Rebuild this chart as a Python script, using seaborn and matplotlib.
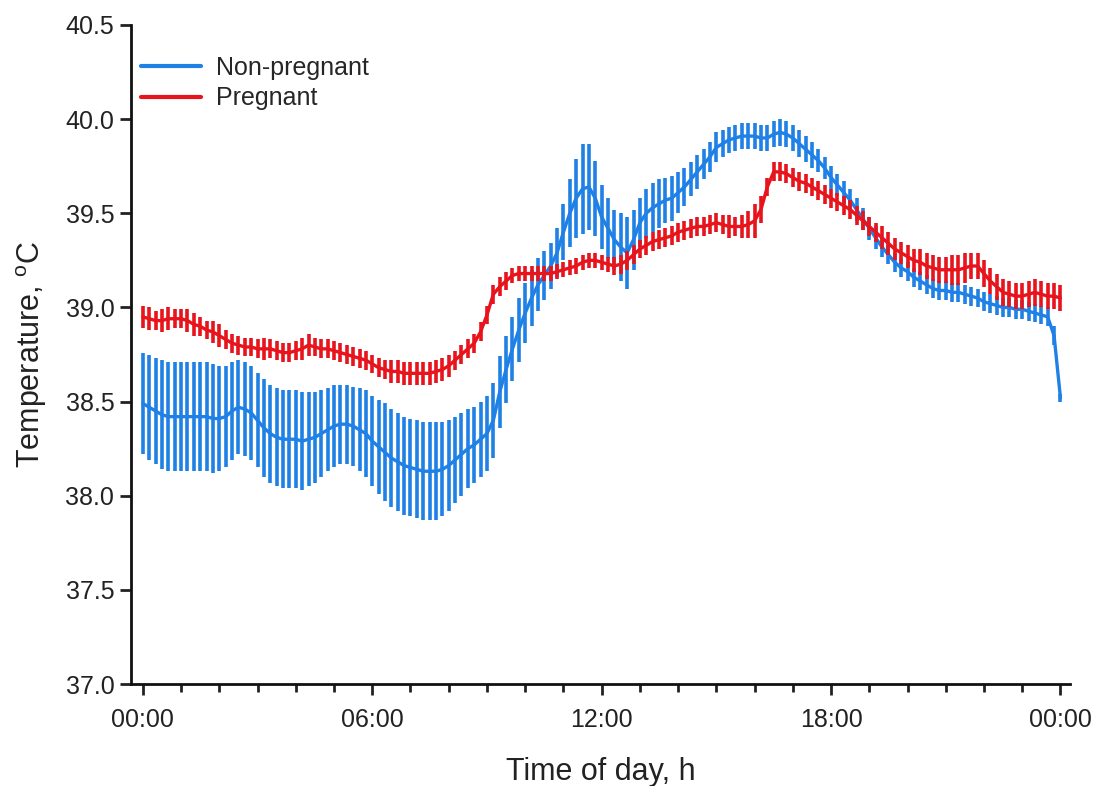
import numpy as np
import pandas as pd
import matplotlib
matplotlib.use("Agg")
import matplotlib.pyplot as plt
import seaborn as sns
from matplotlib.ticker import FixedLocator, MultipleLocator

# ---------------- data (10-min sampling, 00:00 .. 24:00) ----------------
minutes = np.arange(0, 1441, 10)

nonpreg_mean = [
    38.49, 38.47, 38.45, 38.43, 38.42, 38.42,   # 00
    38.42, 38.42, 38.42, 38.42, 38.42, 38.41,   # 01
    38.41, 38.42, 38.45, 38.47, 38.46, 38.44,   # 02
    38.40, 38.36, 38.33, 38.31, 38.30, 38.30,   # 03
    38.30, 38.29, 38.30, 38.31, 38.33, 38.35,   # 04
    38.37, 38.38, 38.38, 38.37, 38.35, 38.33,   # 05
    38.29, 38.26, 38.23, 38.20, 38.18, 38.16,   # 06
    38.15, 38.14, 38.13, 38.13, 38.13, 38.14,   # 07
    38.16, 38.19, 38.22, 38.25, 38.27, 38.30,   # 08
    38.33, 38.40, 38.55, 38.67, 38.78, 38.88,   # 09
    38.97, 39.05, 39.12, 39.17, 39.22, 39.29,   # 10
    39.40, 39.50, 39.58, 39.63, 39.64, 39.58,   # 11
    39.48, 39.42, 39.36, 39.32, 39.29, 39.36,   # 12
    39.45, 39.50, 39.53, 39.55, 39.57, 39.58,   # 13
    39.61, 39.64, 39.68, 39.72, 39.76, 39.80,   # 14
    39.85, 39.87, 39.89, 39.90, 39.91, 39.91,   # 15
    39.91, 39.90, 39.90, 39.92, 39.93, 39.92,   # 16
    39.90, 39.87, 39.84, 39.81, 39.78, 39.74,   # 17
    39.69, 39.65, 39.61, 39.57, 39.52, 39.47,   # 18
    39.42, 39.37, 39.32, 39.28, 39.24, 39.21,   # 19
    39.19, 39.16, 39.14, 39.12, 39.10, 39.09,   # 20
    39.09, 39.08, 39.08, 39.07, 39.06, 39.05,   # 21
    39.03, 39.02, 39.01, 39.00, 39.00, 38.99,   # 22
    38.99, 38.98, 38.97, 38.96, 38.95, 38.85,   # 23
    38.52,                                      # 24
]
nonpreg_err = [
    .27, .28, .28, .29, .29, .29,
    .29, .29, .29, .29, .29, .29,
    .28, .27, .26, .25, .25, .25,
    .25, .26, .26, .26, .26, .26,
    .26, .26, .25, .24, .23, .22,
    .22, .21, .21, .21, .22, .23,
    .24, .25, .26, .26, .26, .26,
    .26, .26, .26, .26, .26, .25,
    .24, .23, .22, .21, .20, .20,
    .20, .20, .19, .18, .17, .17,
    .16, .15, .14, .13, .12, .13,
    .15, .18, .21, .24, .23, .20,
    .17, .16, .16, .18, .19, .16,
    .13, .13, .13, .13, .12, .12,
    .11, .10, .09, .09, .08, .08,
    .08, .07, .07, .07, .07, .07,
    .07, .07, .07, .07, .07, .07,
    .07, .07, .07, .07, .06, .06,
    .06, .06, .06, .06, .06, .06,
    .06, .06, .05, .05, .05, .05,
    .05, .05, .05, .05, .05, .05,
    .05, .05, .05, .05, .05, .05,
    .05, .05, .05, .05, .05, .05,
    .05, .05, .05, .05, .05, .05,
    .02,
]

preg_mean = [
    38.95, 38.94, 38.93, 38.93, 38.94, 38.94,   # 00
    38.94, 38.93, 38.91, 38.90, 38.88, 38.87,   # 01
    38.85, 38.83, 38.81, 38.80, 38.79, 38.79,   # 02
    38.78, 38.78, 38.78, 38.77, 38.76, 38.76,   # 03
    38.77, 38.78, 38.80, 38.79, 38.78, 38.78,   # 04
    38.77, 38.76, 38.75, 38.74, 38.73, 38.72,   # 05
    38.70, 38.68, 38.67, 38.66, 38.66, 38.65,   # 06
    38.65, 38.65, 38.65, 38.65, 38.66, 38.67,   # 07
    38.69, 38.72, 38.75, 38.78, 38.81, 38.87,   # 08
    38.96, 39.07, 39.11, 39.14, 39.17, 39.18,   # 09
    39.18, 39.18, 39.18, 39.18, 39.18, 39.19,   # 10
    39.20, 39.21, 39.22, 39.24, 39.25, 39.25,   # 11
    39.24, 39.23, 39.22, 39.23, 39.25, 39.28,   # 12
    39.31, 39.33, 39.35, 39.36, 39.37, 39.38,   # 13
    39.40, 39.41, 39.42, 39.43, 39.43, 39.44,   # 14
    39.45, 39.44, 39.43, 39.43, 39.43, 39.44,   # 15
    39.46, 39.52, 39.64, 39.72, 39.72, 39.71,   # 16
    39.69, 39.67, 39.66, 39.64, 39.62, 39.60,   # 17
    39.58, 39.56, 39.54, 39.52, 39.49, 39.46,   # 18
    39.43, 39.40, 39.37, 39.34, 39.31, 39.29,   # 19
    39.27, 39.25, 39.24, 39.22, 39.21, 39.20,   # 20
    39.20, 39.20, 39.20, 39.21, 39.22, 39.22,   # 21
    39.18, 39.14, 39.11, 39.08, 39.07, 39.06,   # 22
    39.06, 39.07, 39.08, 39.07, 39.06, 39.06,   # 23
    39.05,                                      # 24
]
preg_err = [
    .06, .06, .05, .06, .06, .05,
    .05, .06, .06, .05, .05, .06,
    .06, .05, .05, .05, .05, .05,
    .05, .06, .05, .05, .05, .05,
    .05, .06, .06, .05, .05, .05,
    .05, .05, .05, .05, .05, .05,
    .05, .05, .05, .06, .06, .06,
    .06, .06, .06, .06, .06, .06,
    .06, .05, .05, .05, .05, .05,
    .05, .05, .05, .05, .04, .04,
    .04, .04, .04, .04, .04, .04,
    .04, .04, .04, .04, .04, .04,
    .04, .04, .05, .05, .05, .05,
    .05, .05, .05, .05, .05, .05,
    .05, .05, .05, .05, .05, .05,
    .05, .05, .06, .05, .06, .07,
    .09, .07, .05, .05, .05, .05,
    .05, .05, .05, .05, .05, .05,
    .05, .05, .05, .05, .05, .05,
    .05, .05, .06, .06, .06, .06,
    .06, .06, .07, .07, .07, .07,
    .07, .08, .08, .08, .07, .07,
    .07, .07, .07, .07, .07, .07,
    .07, .07, .07, .07, .07, .07,
    .07,
]

groups = ["Non-pregnant", "Pregnant"]
x_tick_labels = ["00:00", "06:00", "12:00", "18:00", "00:00"]
y_ticks = [37.0, 37.5, 38.0, 38.5, 39.0, 39.5, 40.0, 40.5]

BLUE = "#1f80e6"
RED = "#e8141c"

# ---------------- figure ----------------
sns.set_theme(style="ticks")
plt.rcParams["font.family"] = ["Liberation Sans", "DejaVu Sans"]
plt.rcParams["mathtext.fontset"] = "custom"
plt.rcParams["mathtext.rm"] = "Liberation Sans"
plt.rcParams["mathtext.it"] = "Liberation Sans:italic"

hours = minutes / 60.0
n = len(minutes)
df = pd.DataFrame({
    "hour": np.concatenate([hours, hours]),
    "temp": np.concatenate([nonpreg_mean, preg_mean]),
    "err": np.concatenate([nonpreg_err, preg_err]),
    "group": [groups[0]] * n + [groups[1]] * n,
})

fig = plt.figure(figsize=(11.1, 7.86), dpi=100)
ax = fig.add_axes([131 / 1110, 102 / 786, (1070 - 131) / 1110, (684 - 25) / 786])

sns.lineplot(data=df, x="hour", y="temp", hue="group",
             palette={groups[0]: BLUE, groups[1]: RED},
             linewidth=2.4, ax=ax, estimator=None, sort=True)

for i, (g, col) in enumerate(zip(groups, [BLUE, RED])):
    sub = df[df["group"] == g]
    ax.errorbar(sub["hour"], sub["temp"], yerr=sub["err"], fmt="none",
                ecolor=col, elinewidth=2.6, capsize=0, zorder=2 + 2 * i)
    ax.lines[i].set_zorder(3 + 2 * i)

ax.set_xlim(-0.31, 24.25)
ax.set_ylim(37.0, 40.5)
ax.xaxis.set_major_locator(FixedLocator([0, 6, 12, 18, 24]))
ax.set_xticklabels(x_tick_labels)
ax.xaxis.set_minor_locator(MultipleLocator(1))
ax.set_yticks(y_ticks)
ax.set_yticklabels([f"{v:.1f}" for v in y_ticks])

ax.tick_params(axis="both", which="major", labelsize=18, colors="#222222",
               length=8, width=2, direction="out")
ax.tick_params(axis="x", which="major", pad=9)
ax.tick_params(axis="y", which="major", pad=4)
ax.tick_params(axis="x", which="minor", length=6, width=2, direction="out",
               colors="#222222")

sns.despine(ax=ax)
for s in ["left", "bottom"]:
    ax.spines[s].set_linewidth(2)
    ax.spines[s].set_color("#111111")

ax.set_xlabel("Time of day, h", fontsize=22, color="#222222", labelpad=18)
ax.set_ylabel("Temperature, $^{\\mathrm{o}}$C", fontsize=22, color="#222222",
              labelpad=12)

leg = ax.legend(loc="upper left", bbox_to_anchor=(0.0, 0.968), frameon=False,
                fontsize=18, handlelength=2.4, handletextpad=0.6,
                labelspacing=0.25, borderaxespad=0.2, borderpad=0.2)
for h in leg.legend_handles:
    h.set_linewidth(3)

fig.savefig("out.png", dpi=100, facecolor="white")
